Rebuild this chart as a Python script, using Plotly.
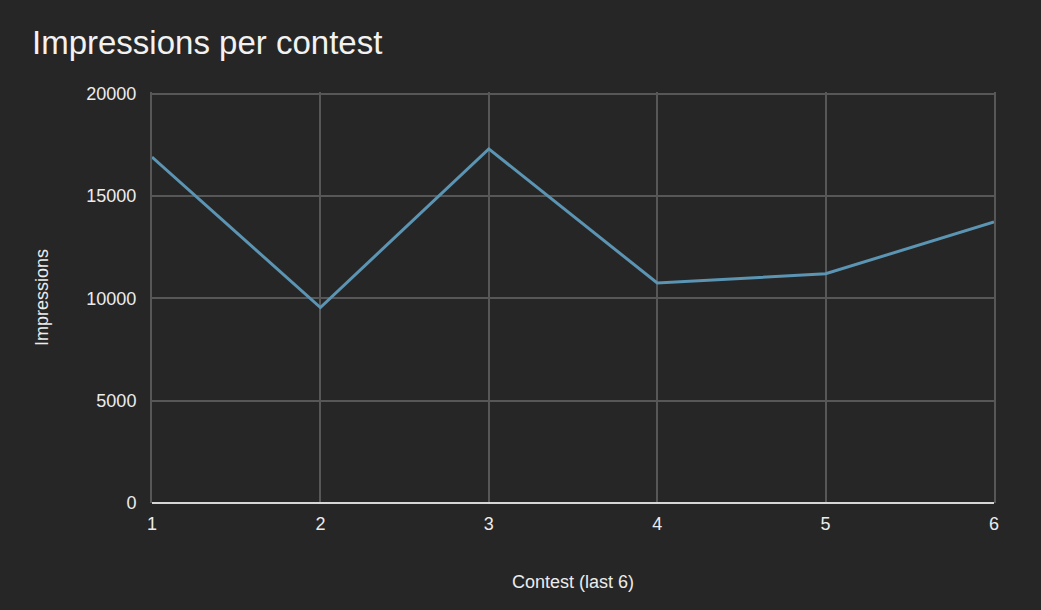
import plotly.graph_objects as go

contests = [1, 2, 3, 4, 5, 6]
impressions = [16900, 9550, 17300, 10750, 11200, 13730]
y_ticks = [0, 5000, 10000, 15000, 20000]

BG = "#262626"
GRID = "#575757"
TEXT = "#ececec"

fig = go.Figure()

fig.add_trace(
    go.Scatter(
        x=contests,
        y=impressions,
        mode="lines",
        name="Impressions",
        line=dict(color="#5b95b3", width=3),
        hovertemplate="Contest %{x}<br>Impressions: %{y}<extra></extra>",
    )
)

fig.update_layout(
    width=1041,
    height=610,
    paper_bgcolor=BG,
    plot_bgcolor=BG,
    font=dict(family="Liberation Sans, Arial, sans-serif", color=TEXT, size=18),
    showlegend=False,
    margin=dict(l=152, r=47, t=92, b=107),
    title=dict(
        text="Impressions per contest",
        font=dict(size=33, color="#f2f2f2"),
        xref="container",
        yref="container",
        x=32 / 1041,
        xanchor="left",
        y=1 - 42 / 610,
        yanchor="middle",
    ),
    xaxis=dict(
        title=dict(text="Contest (last 6)", standoff=42, font=dict(size=18)),
        range=[1, 6],
        tickvals=contests,
        showgrid=True,
        gridcolor=GRID,
        gridwidth=2,
        zeroline=False,
        showline=False,
        ticks="",
        ticklabelstandoff=8,
        tickfont=dict(size=18),
    ),
    yaxis=dict(
        title=dict(text="Impressions", standoff=33, font=dict(size=18)),
        # a hair of headroom so plotly keeps the 20000 gridline (it drops grid at the edge)
        range=[0, 20080],
        tickvals=y_ticks,
        tickformat="d",
        showgrid=True,
        gridcolor=GRID,
        gridwidth=2,
        zeroline=True,
        zerolinecolor="#d6d6d6",
        zerolinewidth=2,
        showline=True,
        mirror=True,
        linecolor=GRID,
        linewidth=2,
        ticks="",
        ticklabelstandoff=10,
        tickfont=dict(size=18),
    ),
)

# drop the page's default body margin so the figure sits at the window's corner
fig.write_html(
    "out.html",
    config={"displayModeBar": False},
    post_script="document.body.style.margin='0';document.body.style.background='#262626';",
)
